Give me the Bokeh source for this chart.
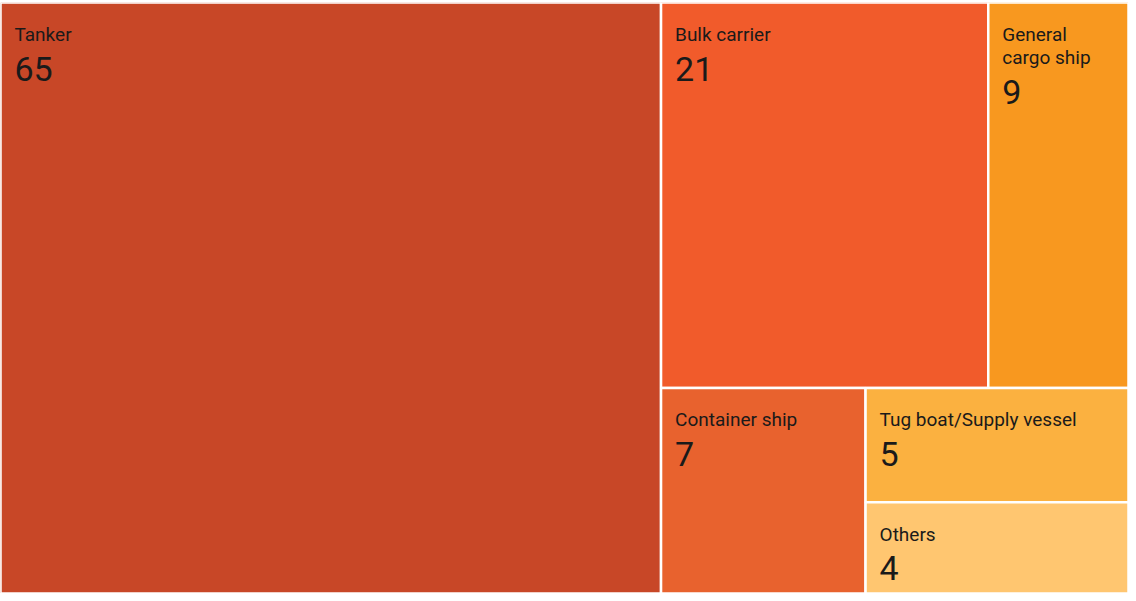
from bokeh.plotting import figure
from bokeh.models import ColumnDataSource, Range1d
from bokeh.core.properties import value
from bokeh.embed import file_html
from bokeh.resources import INLINE

# ---- data ----
categories = ["Tanker", "Bulk carrier", "General\ncargo ship", "Container ship",
              "Tug boat/Supply vessel", "Others"]
counts = [65, 21, 9, 7, 5, 4]
colors = ["#C84727", "#F15B2B", "#F8981F", "#E8622E", "#FBB140", "#FFC670"]

# grouping of tiles (index nesting), alternating split direction
hierarchy = [0, [[1, 2], [3, [4, 5]]]]

W, H = 1128.0, 591.0


def total(node):
    if isinstance(node, int):
        return counts[node]
    return sum(total(n) for n in node)


rects = {}


def layout(node, x0, y0, x1, y1, horizontal):
    if isinstance(node, int):
        rects[node] = (x0, y0, x1, y1)
        return
    t = total(node)
    pos = x0 if horizontal else y0
    for child in node:
        frac = total(child) / t
        if horizontal:
            w = (x1 - x0) * frac
            layout(child, pos, y0, pos + w, y1, not horizontal)
            pos += w
        else:
            h = (y1 - y0) * frac
            layout(child, x0, pos, x1, pos + h, not horizontal)
            pos += h


layout(hierarchy, 0, 0, W, H, True)

idx = list(range(len(counts)))
src = ColumnDataSource(dict(
    left=[rects[i][0] for i in idx], right=[rects[i][2] for i in idx],
    top=[rects[i][1] for i in idx], bottom=[rects[i][3] for i in idx],
    color=colors,
))

p = figure(width=1128, height=593, output_backend="svg", toolbar_location=None,
           x_range=Range1d(0, W), y_range=Range1d(H, 0),
           min_border_left=0, min_border_right=0, min_border_bottom=0, min_border_top=2)
p.axis.visible = False
p.grid.visible = False
p.outline_line_color = None
p.background_fill_color = "white"
p.border_fill_color = "white"

p.quad(left="left", right="right", top="top", bottom="bottom", source=src,
       fill_color="color", line_color="white", line_width=2.5)

FONT = "Roboto"

lx, ly, loff = [], [], []
for i in idx:
    for k, line in enumerate(categories[i].split("\n")):
        lx.append(rects[i][0]); ly.append(rects[i][1]); loff.append(32 + 23 * k)
lab_src = ColumnDataSource(dict(x=lx, y=ly, off=loff,
                                text=[l for i in idx for l in categories[i].split("\n")]))
p.text(x="x", y="y", text="text", source=lab_src, x_offset=14, y_offset="off",
       text_font=value(FONT), text_font_size="19px", text_color="#1a1a1a",
       text_baseline="alphabetic", text_align="left")

voff = [66 + 23 * (categories[i].count("\n")) for i in idx]
val_src = ColumnDataSource(dict(x=[rects[i][0] for i in idx], y=[rects[i][1] for i in idx],
                                off=voff, text=[str(c) for c in counts]))
p.text(x="x", y="y", text="text", source=val_src, x_offset=14, y_offset="off",
       text_font=value(FONT), text_font_size="34px", text_font_style="normal",
       text_color="#1a1a1a", text_baseline="alphabetic", text_align="left")

open("out.html", "w").write(file_html(p, INLINE))
